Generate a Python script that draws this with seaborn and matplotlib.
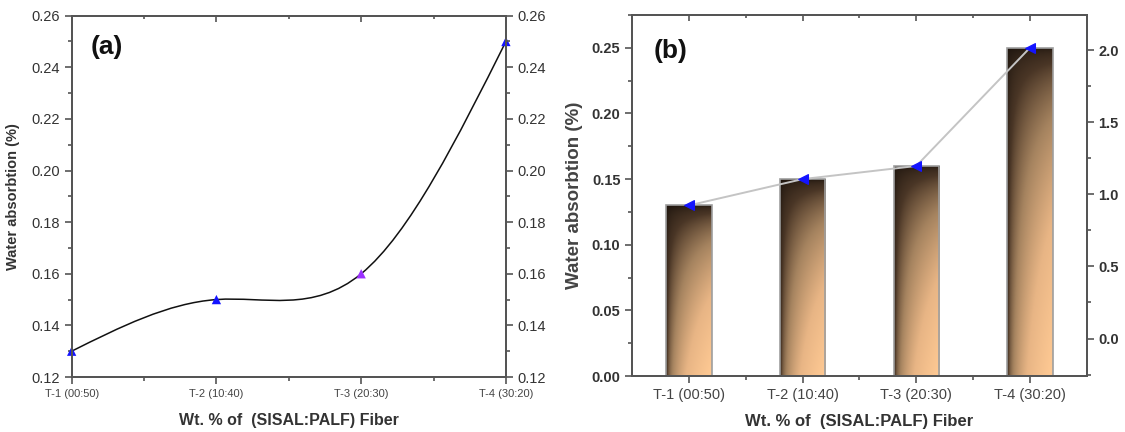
import numpy as np
import pandas as pd
import matplotlib
matplotlib.use("Agg")
import matplotlib.pyplot as plt
import seaborn as sns
from matplotlib.path import Path
from matplotlib.patches import PathPatch
from matplotlib.ticker import MultipleLocator, FixedLocator, FormatStrFormatter
from matplotlib.colors import LinearSegmentedColormap

# data
samples = ["T-1 (00:50)", "T-2 (10:40)", "T-3 (20:30)", "T-4 (30:20)"]
water_abs = [0.13, 0.15, 0.16, 0.25]
point_colors = ["#1414ff", "#1414ff", "#9b30ff", "#1414ff"]
left_ticks_a = [0.12, 0.14, 0.16, 0.18, 0.20, 0.22, 0.24, 0.26]
left_ticks_b = [0.00, 0.05, 0.10, 0.15, 0.20, 0.25]
right_ticks_b = [0.0, 0.5, 1.0, 1.5, 2.0]

df = pd.DataFrame({"sample": samples, "wa": water_abs})

sns.set_theme(style="white")
plt.rcParams["font.family"] = ["Liberation Sans", "DejaVu Sans"]

spine_col = "#555555"
text_col = "#333333"


def spline_path(x, y):
    # natural cubic spline through the points, as bezier segments
    n = len(x)
    h = np.diff(x)
    A = np.zeros((n, n))
    b = np.zeros(n)
    A[0, 0] = A[-1, -1] = 1
    for i in range(1, n - 1):
        A[i, i - 1] = h[i - 1]
        A[i, i] = 2 * (h[i - 1] + h[i])
        A[i, i + 1] = h[i]
        b[i] = 6 * ((y[i + 1] - y[i]) / h[i] - (y[i] - y[i - 1]) / h[i - 1])
    M = np.linalg.solve(A, b)
    verts = [(x[0], y[0])]
    codes = [Path.MOVETO]
    for i in range(n - 1):
        s = (y[i + 1] - y[i]) / h[i]
        d0 = s - h[i] * (2 * M[i] + M[i + 1]) / 6
        d1 = s + h[i] * (M[i] + 2 * M[i + 1]) / 6
        verts += [(x[i] + h[i] / 3, y[i] + d0 * h[i] / 3),
                  (x[i + 1] - h[i] / 3, y[i + 1] - d1 * h[i] / 3),
                  (x[i + 1], y[i + 1])]
        codes += [Path.CURVE4] * 3
    return Path(verts, codes)


def style_spines(ax):
    for sp in ax.spines.values():
        sp.set_color(spine_col)
        sp.set_linewidth(1.3)


fig = plt.figure(figsize=(11.25, 4.32), dpi=100)
ax1 = fig.add_axes([0.0637, 0.1273, 0.386, 0.8364])
ax2 = fig.add_axes([0.562, 0.1296, 0.4039, 0.8356])

# ---------- panel (a): spline line ----------
pos = np.arange(len(samples), dtype=float)
ax1.add_patch(PathPatch(spline_path(pos, np.array(water_abs)), facecolor="none",
                        edgecolor="#111111", lw=1.1, zorder=2, clip_on=False))
sns.scatterplot(data=df, x="sample", y="wa", hue="sample", palette=point_colors,
                marker="^", s=45, linewidth=0, legend=False, ax=ax1, zorder=3, clip_on=False)
ax1.set_xlim(0, 3)
ax1.set_ylim(0.12, 0.26)
ax1.set_yticks(left_ticks_a)
ax1.yaxis.set_minor_locator(MultipleLocator(0.01))
ax1.yaxis.set_major_formatter(FormatStrFormatter("%.2f"))
ax1.xaxis.set_minor_locator(FixedLocator([0.5, 1.5, 2.5]))
ax1.tick_params(axis="both", which="both", direction="out", left=True, bottom=True,
                color=spine_col, width=1.2, labelcolor=text_col)
ax1.tick_params(which="major", length=5)
ax1.tick_params(which="minor", length=3)
ax1.tick_params(axis="y", labelsize=10.5)
ax1.tick_params(axis="x", labelsize=8, labelcolor="#444444")
ax1.set_xlabel("Wt. % of  (SISAL:PALF) Fiber", fontsize=11.5, fontweight="bold",
               color=text_col, labelpad=10)
ax1.set_ylabel("Water absorbtion (%)", fontsize=10.5, fontweight="bold", color=text_col, labelpad=8)
style_spines(ax1)

ax1r = ax1.twinx()
ax1r.set_ylim(0.12, 0.26)
ax1r.set_yticks(left_ticks_a)
ax1r.yaxis.set_minor_locator(MultipleLocator(0.01))
ax1r.yaxis.set_major_formatter(FormatStrFormatter("%.2f"))
ax1r.tick_params(axis="y", which="both", direction="out", right=True, color=spine_col,
                 width=1.2, labelsize=10.5, labelcolor=text_col)
ax1r.tick_params(which="major", length=5)
ax1r.tick_params(which="minor", length=3)
style_spines(ax1r)

ax1t = ax1.twiny()
ax1t.set_xlim(0, 3)
ax1t.set_xticks([0, 1, 2, 3])
ax1t.xaxis.set_minor_locator(FixedLocator([0.5, 1.5, 2.5]))
ax1t.tick_params(axis="x", which="both", direction="in", top=True, labeltop=False,
                 color=spine_col, width=1.2)
ax1t.tick_params(which="major", length=4)
ax1t.tick_params(which="minor", length=2.5)
style_spines(ax1t)

ax1.text(0.0806, 0.914, "(a)", transform=ax1.transAxes, fontsize=19,
         fontweight="bold", ha="center", va="center", color="#111111")

# ---------- panel (b): gradient bars + line ----------
sns.barplot(data=df, x="sample", y="wa", width=0.4, color="white",
            edgecolor="#9e9e9e", linewidth=1.2, ax=ax2, zorder=3)

cmap = LinearSegmentedColormap.from_list(
    "bar", ["#1a120c", "#4a3626", "#a5835f", "#e8b585", "#ffca94"])
uu, vv = np.meshgrid(np.linspace(0, 1, 120), np.linspace(0, 1, 300))
grad = (uu ** 0.35) * (vv ** 0.45)
for p in ax2.patches:
    x0, y0 = p.get_x(), p.get_y()
    x1, y1 = x0 + p.get_width(), y0 + p.get_height()
    p.set_facecolor("none")
    im = ax2.imshow(grad, cmap=cmap, extent=(x0, x1, y0, y1), origin="upper",
                    aspect="auto", interpolation="bilinear", zorder=2)
    im.set_clip_path(p)

sns.lineplot(data=df, x="sample", y="wa", ax=ax2, color="#c4c4c4", lw=1.4,
             marker="<", markersize=6.5, markerfacecolor="#1414ff",
             markeredgecolor="#1414ff", zorder=5)

ax2.set_xlim(-0.5, 3.5)
ax2.set_ylim(0, 0.275)
ax2.set_yticks(left_ticks_b)
ax2.yaxis.set_minor_locator(MultipleLocator(0.025))
ax2.yaxis.set_major_formatter(FormatStrFormatter("%.2f"))
ax2.xaxis.set_minor_locator(FixedLocator([0.5, 1.5, 2.5]))
ax2.tick_params(axis="both", which="both", direction="out", left=True, bottom=True,
                color=spine_col, width=1.2)
ax2.tick_params(which="major", length=5)
ax2.tick_params(which="minor", length=3)
ax2.tick_params(axis="y", labelsize=10.5, labelcolor=text_col)
ax2.tick_params(axis="x", labelsize=10.5, labelcolor="#444444")
for lab in ax2.get_yticklabels():
    lab.set_fontweight("bold")
ax2.set_xlabel("Wt. % of  (SISAL:PALF) Fiber", fontsize=12, fontweight="bold",
               color=text_col, labelpad=9)
ax2.set_ylabel("Water absorbtion (%)", fontsize=13.5, fontweight="bold", color="#444444", labelpad=6)
style_spines(ax2)

ax2r = ax2.twinx()
ax2r.set_ylim(-0.26, 2.243)
ax2r.set_yticks(right_ticks_b)
ax2r.yaxis.set_minor_locator(MultipleLocator(0.25))
ax2r.yaxis.set_major_formatter(FormatStrFormatter("%.1f"))
ax2r.tick_params(axis="y", which="both", direction="out", right=True, color=spine_col,
                 width=1.2, labelsize=10.5, labelcolor=text_col)
ax2r.tick_params(which="major", length=5)
ax2r.tick_params(which="minor", length=3)
for lab in ax2r.get_yticklabels():
    lab.set_fontweight("bold")
style_spines(ax2r)

ax2t = ax2.twiny()
ax2t.set_xlim(-0.5, 3.5)
ax2t.set_xticks([0, 1, 2, 3])
ax2t.xaxis.set_minor_locator(FixedLocator([0.5, 1.5, 2.5]))
ax2t.tick_params(axis="x", which="both", direction="in", top=True, labeltop=False,
                 color=spine_col, width=1.2)
ax2t.tick_params(which="major", length=4)
ax2t.tick_params(which="minor", length=2.5)
style_spines(ax2t)

ax2.text(0.085, 0.90, "(b)", transform=ax2.transAxes, fontsize=19,
         fontweight="bold", ha="center", va="center", color="#111111")

fig.savefig("out.png", dpi=100)
